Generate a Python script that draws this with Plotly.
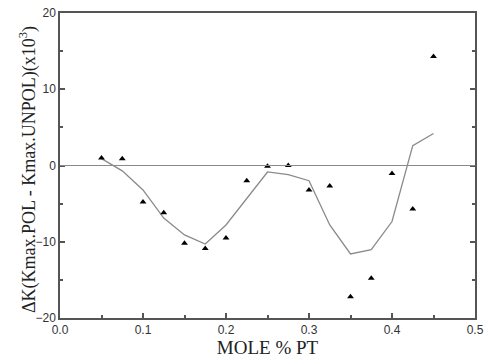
import plotly.graph_objects as go

mole_pt = [0.05, 0.075, 0.1, 0.125, 0.15, 0.175, 0.2, 0.225, 0.25, 0.275,
           0.3, 0.325, 0.35, 0.375, 0.4, 0.425, 0.45]
delta_k = [1.0, 0.9, -4.8, -6.2, -10.2, -10.9, -9.5, -2.0, -0.1, 0.0,
           -3.2, -2.7, -17.2, -14.8, -1.05, -5.7, 14.3]
smooth_k = [0.9, -0.7, -3.2, -6.9, -9.1, -10.3, -7.8, -4.3, -0.85, -1.2,
            -2.0, -7.8, -11.6, -11.05, -7.35, 2.6, 4.2]
x_ticks = [0.0, 0.1, 0.2, 0.3, 0.4, 0.5]
y_ticks = [-20, -10, 0, 10, 20]
y_title = "ΔK(Kmax.POL - Kmax.UNPOL)(x10<sup>3</sup>)"

fig = go.Figure()
fig.add_trace(go.Scatter(x=mole_pt, y=smooth_k, mode="lines",
                         line=dict(color="#8a8a8a", width=1.3), showlegend=False))
fig.add_trace(go.Scatter(x=mole_pt, y=delta_k, mode="markers",
                         marker=dict(symbol="triangle-up", size=6, color="black"),
                         showlegend=False))
fig.add_hline(y=0, line=dict(color="#8a8a8a", width=1.2))

axis_common = dict(showgrid=False, zeroline=False, ticks="inside", ticklen=5,
                   tickwidth=1.5, tickcolor="#555", linecolor="#555", linewidth=1.5,
                   showline=True, automargin=False,
                   tickfont=dict(family="Liberation Sans, Arial", size=12, color="#333"))

fig.update_xaxes(range=[0, 0.5], tickvals=x_ticks,
                 ticktext=[f"{v:.1f}" for v in x_ticks], mirror=True,
                 minor=dict(ticks="inside", ticklen=3, dtick=0.05, tickcolor="#555", tickwidth=1.5),
                 title=dict(text="MOLE % PT", standoff=3,
                            font=dict(family="Liberation Serif, Times New Roman", size=19, color="#222")),
                 **axis_common)
fig.update_yaxes(range=[-20, 20], tickvals=y_ticks, mirror="ticks",
                 minor=dict(ticks="inside", ticklen=3, dtick=5, tickcolor="#555", tickwidth=1.5),
                 **axis_common)

fig.add_annotation(text=y_title, textangle=-90, xref="paper", yref="paper",
                   x=-0.077, y=0.485, xanchor="center", yanchor="middle", showarrow=False,
                   font=dict(family="Liberation Serif, Times New Roman", size=18, color="#222"))

fig.update_layout(width=489, height=363, margin=dict(l=60, r=14, t=13, b=45),
                  plot_bgcolor="white", paper_bgcolor="white")
fig.write_html("out.html", config={"displayModeBar": False},
               post_script="document.body.style.margin='0';document.body.style.overflow='hidden';")
